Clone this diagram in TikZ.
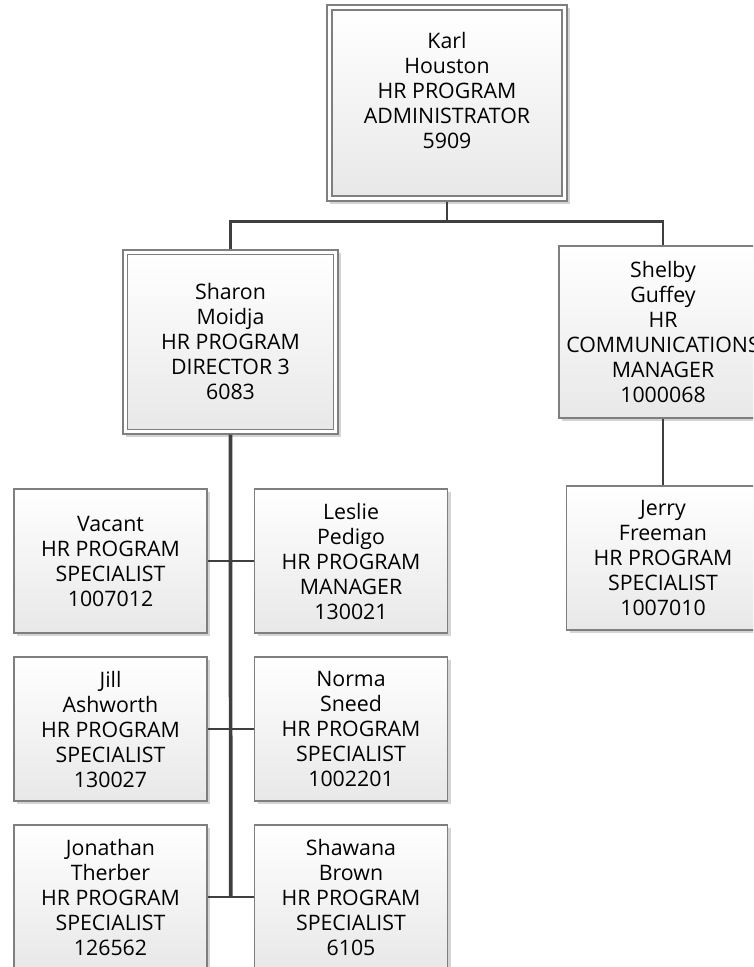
\documentclass[tikz,border=0pt]{standalone}
\usepackage{fontspec}
\setmainfont{Open Sans}
\usetikzlibrary{shadows}
\definecolor{bordergray}{HTML}{7F7F7F}
\definecolor{linegray}{HTML}{3F3F3F}
\definecolor{boxbot}{HTML}{E8E8E8}
\definecolor{shadowgray}{HTML}{D4D4D4}
\tikzset{
  orgshadow/.style={drop shadow={fill=shadowgray, opacity=1, shadow xshift=2.6pt, shadow yshift=-2.6pt}},
  orgbox/.style={rectangle, draw=bordergray, line width=0.8pt, top color=white, bottom color=boxbot,
     orgshadow, inner sep=0pt, align=center, text=black,
     font=\fontsize{16}{18.75}\selectfont},
  outerbox/.style={rectangle, draw=bordergray, line width=0.8pt, fill=white, orgshadow, inner sep=0pt},
  innerbox/.style={rectangle, draw=bordergray, line width=0.8pt, top color=white, bottom color=boxbot, inner sep=0pt},
  orgtext/.style={align=center, inner sep=0pt, text=black, font=\fontsize{16}{18.75}\selectfont},
  conn/.style={draw=linegray, line width=2pt},
  trunk/.style={draw=linegray, line width=2.8pt},
  rowbox/.style={orgbox, minimum width=144.75pt, minimum height=108pt}
}
\begin{document}
\begin{tikzpicture}[x=0.75pt,y=-0.75pt]
\useasboundingbox (0,0) rectangle (753,967);
\clip (0,0) rectangle (753,967);

% Karl Houston (double border)
\node[outerbox, minimum width=180pt, minimum height=147pt] (karl) at (447,103) {};
\node[innerbox, minimum width=172.5pt, minimum height=139.5pt] (karlin) at (447,103) {};
\node[orgtext] (karltext) at (447,90) {Karl\\Houston\\HR PROGRAM\\ADMINISTRATOR\\5909};

% Sharon Moidja (double border)
\node[outerbox, minimum width=161.25pt, minimum height=138pt] (sharon) at (230.5,342) {};
\node[innerbox, minimum width=154.5pt, minimum height=131.25pt] (sharonin) at (230.5,342) {};
\node[orgtext] (sharontext) at (230.5,341) {Sharon\\Moidja\\HR PROGRAM\\DIRECTOR 3\\6083};

% Shelby Guffey
\node[orgbox, minimum width=156pt, minimum height=129pt] (shelby) at (663,332)
  {Shelby\\Guffey\\HR\\COMMUNICATIONS\\MANAGER\\1000068};

% Jerry Freeman
\node[rowbox] (jerry) at (663,558) {Jerry\\Freeman\\HR PROGRAM\\SPECIALIST\\1007010};

% Rows under Sharon
\node[rowbox] (vacant) at (110.5,561) {Vacant\\HR PROGRAM\\SPECIALIST\\1007012};
\node[rowbox] (leslie) at (351,561) {Leslie\\Pedigo\\HR PROGRAM\\MANAGER\\130021};
\node[rowbox] (jill) at (110.5,729) {Jill\\Ashworth\\HR PROGRAM\\SPECIALIST\\130027};
\node[rowbox] (norma) at (351,729) {Norma\\Sneed\\HR PROGRAM\\SPECIALIST\\1002201};
\node[rowbox] (jonathan) at (110.5,897) {Jonathan\\Therber\\HR PROGRAM\\SPECIALIST\\126562};
\node[rowbox] (shawana) at (351,897) {Shawana\\Brown\\HR PROGRAM\\SPECIALIST\\6105};

% Connectors
\coordinate (bus) at (447,221.5);
\draw[conn] (karl.south) -- (bus);
\draw[conn] (sharon.north) |- (bus) -| (shelby.north);
\draw[conn] (shelby.south) -- (jerry.north);
\coordinate (trunkend) at (230.7,897);
\draw[trunk] (sharon.south) -- (trunkend);
\draw[conn] (vacant.east) -- (leslie.west);
\draw[conn] (jill.east) -- (norma.west);
\draw[conn] (jonathan.east) -- (shawana.west);
\end{tikzpicture}
\end{document}
